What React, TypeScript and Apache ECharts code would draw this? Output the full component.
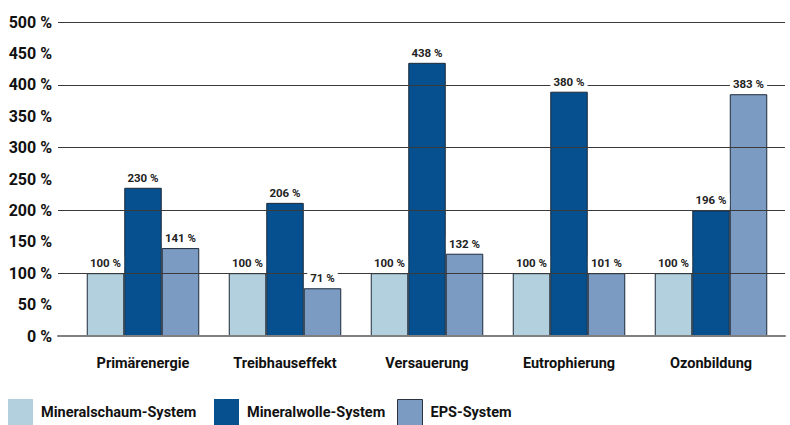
import React, { useEffect, useRef } from "react";
import * as echarts from "echarts";

const categories = ["Primärenergie", "Treibhauseffekt", "Versauerung", "Eutrophierung", "Ozonbildung"];
const seriesNames = ["Mineralschaum-System", "Mineralwolle-System", "EPS-System"];
// bar heights as drawn in the picture (%)
const mineralschaumBars = [100, 100, 100, 100, 100];
const mineralwolleBars = [236, 212, 435, 389, 200];
const epsBars = [140, 76, 131, 100, 385];
// printed value labels (%)
const mineralschaumLabels = [100, 100, 100, 100, 100];
const mineralwolleLabels = [230, 206, 438, 380, 196];
const epsLabels = [141, 71, 132, 101, 383];
const colors = ["#b2d0de", "#06508f", "#7b9bc3"];

const FONT = "Roboto";

export default function App() {
  const ref = useRef<HTMLDivElement>(null);
  useEffect(() => {
    if (!ref.current) return;
    document.body.style.margin = "0";
    const chart = echarts.init(ref.current, null, { renderer: "svg" });
    const bars = [mineralschaumBars, mineralwolleBars, epsBars];
    const labels = [mineralschaumLabels, mineralwolleLabels, epsLabels];
    const top = 22;
    const bottom = 89;
    const barSeries = bars.map((d, i) => ({
      type: "bar",
      name: seriesNames[i],
      xAxisIndex: 0,
      yAxisIndex: 0,
      data: d,
      barWidth: 37.5,
      barGap: "0%",
      z: 2,
      itemStyle: { color: colors[i], borderColor: "#1d2a38", borderWidth: 1 },
    }));
    const labelSeries = bars.map((d, i) => ({
      type: "bar",
      name: "label" + i,
      xAxisIndex: 1,
      yAxisIndex: 0,
      data: d,
      barWidth: 37.5,
      barGap: "0%",
      z: 10,
      silent: true,
      itemStyle: { color: "rgba(0,0,0,0)", borderWidth: 0 },
      label: {
        show: true,
        position: "top",
        distance: 4,
        fontFamily: FONT,
        fontWeight: "bold",
        fontSize: 11.5,
        color: "#222",
        backgroundColor: "#fff",
        padding: [1, 3, 0, 3],
        formatter: (p: any) => labels[i][p.dataIndex] + " %",
      },
    }));
    const legendPos = [8, 214, 397];
    chart.setOption({
      animation: false,
      grid: [
        { left: 72, right: 8, top, bottom },
        { left: 58, right: 5, top, bottom },
      ],
      xAxis: [
        {
          type: "category",
          gridIndex: 0,
          data: categories,
          axisLine: { show: false },
          axisTick: { show: false },
          axisLabel: {
            interval: 0,
            margin: 20,
            fontFamily: FONT,
            fontWeight: "bold",
            fontSize: 14.5,
            color: "#111",
          },
        },
        {
          type: "category",
          gridIndex: 0,
          data: categories,
          show: false,
        },
        {
          type: "category",
          gridIndex: 1,
          data: ["a"],
          z: 4,
          axisLine: { show: true, lineStyle: { color: "#7f7f7f", width: 2 } },
          axisTick: { show: false },
          axisLabel: { show: false },
        },
      ],
      yAxis: [
        { type: "value", gridIndex: 0, min: 0, max: 500, show: false },
        {
          type: "value",
          gridIndex: 1,
          min: 0,
          max: 500,
          interval: 50,
          axisLine: { show: false },
          axisTick: { show: false },
          splitLine: { show: false },
          axisLabel: {
            margin: 6,
            fontFamily: FONT,
            fontWeight: "bold",
            fontSize: 16,
            color: "#111",
            formatter: "{value} %",
          },
        },
        {
          type: "value",
          gridIndex: 1,
          min: 0,
          max: 500,
          interval: 100,
          z: 3,
          axisLine: { show: false },
          axisTick: { show: false },
          axisLabel: { show: false },
          splitLine: { show: true, lineStyle: { color: "#3a3a3a", width: 1.2 } },
        },
      ],
      legend: seriesNames.map((n, i) => ({
        left: legendPos[i],
        top: 399,
        data: [n],
        icon: "rect",
        itemWidth: 25,
        itemHeight: 26,
        padding: 0,
        selectedMode: false,
        itemStyle:
          i === 2
            ? { borderColor: "#2a3440", borderWidth: 1 }
            : { borderWidth: 0 },
        textStyle: {
          fontFamily: FONT,
          fontWeight: "bold",
          fontSize: 14.5,
          color: "#111",
          padding: [0, 0, 0, 3],
        },
      })),
      series: [...barSeries, ...labelSeries],
    });
    return () => chart.dispose();
  }, []);
  return <div ref={ref} style={{ width: 790, height: 425 }} />;
}
